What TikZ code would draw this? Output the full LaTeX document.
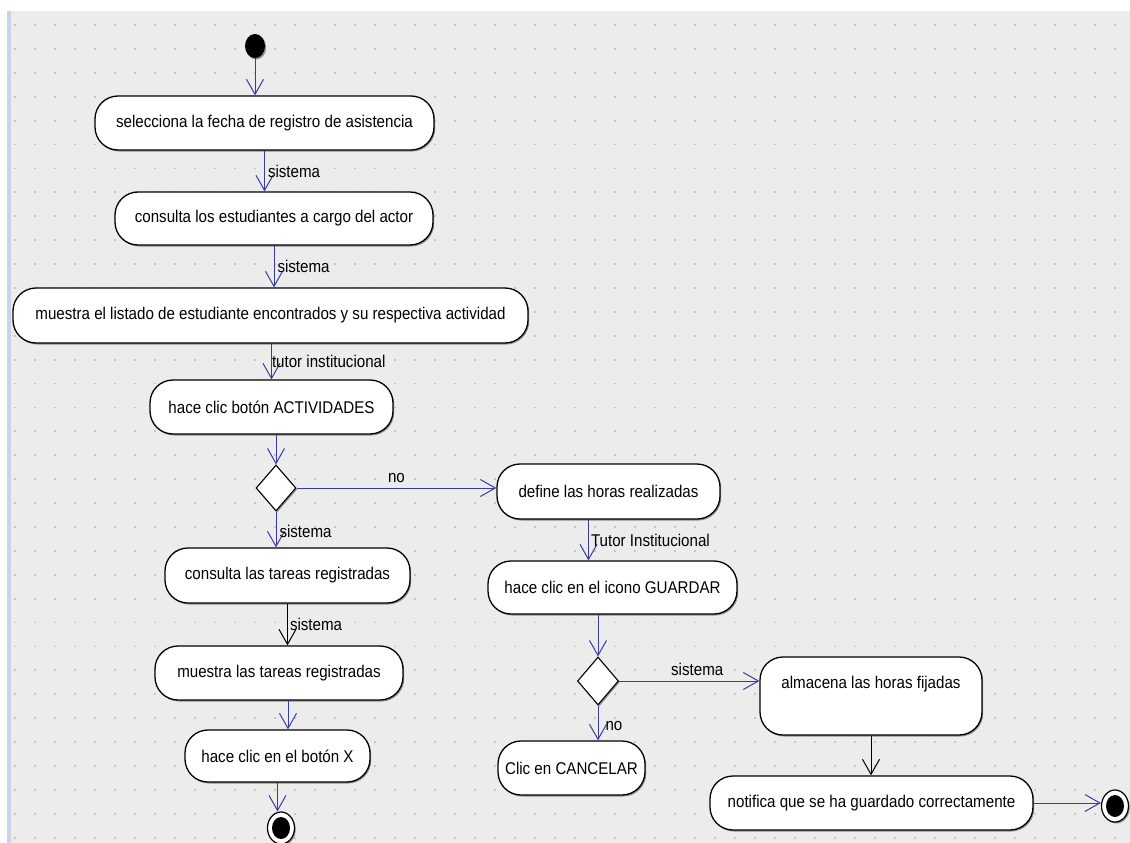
\documentclass[tikz,border=0pt]{standalone}
\usepackage{fontspec}
\setmainfont{Liberation Sans}[FakeStretch=0.89]
\usetikzlibrary{arrows.meta,shapes.geometric,shadows,calc}

\definecolor{canvas}{RGB}{236,236,236}
\definecolor{griddot}{RGB}{198,198,198}
\definecolor{edgeblue}{RGB}{58,58,165}
\definecolor{sidebar}{RGB}{200,212,234}

\begin{document}
\begin{tikzpicture}[x=1pt,y=-1pt,
  every node/.style={font=\fontsize{17}{20}\selectfont},
  softshadow/.style={drop shadow={shadow xshift=1.2pt, shadow yshift=-1.5pt, fill=black!60, opacity=0.7}},
  action/.style={draw=black, line width=1.3pt, fill=white, rounded corners=23pt,
    inner sep=0pt, softshadow},
  choice/.style={diamond, draw=black, line width=1.1pt, fill=white, inner sep=0pt,
    minimum width=40pt, minimum height=46pt, softshadow},
  initial/.style={ellipse, fill=black, inner sep=0pt, minimum width=20pt,
    minimum height=24pt, softshadow},
  final/.style={ellipse, draw=black, line width=1.2pt, fill=white, inner sep=0pt,
    minimum width=27pt, minimum height=32pt, softshadow,
    path picture={\fill[black] (path picture bounding box.center)
      ellipse [x radius=9pt, y radius=11pt];}},
  flow/.style={draw=edgeblue, line width=1pt,
    -{Straight Barb[length=15pt,width=17pt,line width=1pt]}},
  blackflow/.style={flow, draw=black},
  lbl/.style={inner sep=1pt}
]
\useasboundingbox (0,0) rectangle (1130,843);

% canvas with dotted grid
\fill[white] (0,0) rectangle (1130,843);
\fill[canvas] (11,11) rectangle (1130,843);
\fill[sidebar] (7,11) rectangle (11,843);
\foreach \j in {0,...,34}{
  \pgfmathsetmacro\gy{25+23.9*\j}
  \foreach \gx in {15,35,...,1130}{
    \fill[griddot] (\gx-0.9,\gy-0.9) rectangle ++(1.8,1.8);
  }
}

% left column
\node[initial] (s) at (255,46) {};
\node[action, minimum width=339pt, minimum height=54pt] (n1) at (264.5,123)
  {selecciona la fecha de registro de asistencia};
\node[action, minimum width=318pt, minimum height=53pt] (n2) at (274,218.5)
  {consulta los estudiantes a cargo del actor};
\node[action, minimum width=515pt, minimum height=55pt] (n3) at (270.5,315.5)
  {muestra el listado de estudiante encontrados y su respectiva actividad};
\node[action, minimum width=243pt, minimum height=54pt] (n4) at (271.5,407)
  {hace clic botón ACTIVIDADES};
\node[choice] (d1) at (276,488) {};
\node[action, minimum width=245pt, minimum height=55pt] (n6) at (287.5,575.5)
  {consulta las tareas registradas};
\node[action, minimum width=248pt, minimum height=54pt] (n7) at (279,673)
  {muestra las tareas registradas};
\node[action, minimum width=185pt, minimum height=52pt] (n8) at (277.5,756)
  {hace clic en el botón X};
\node[final] (e1) at (281,828) {};

% right column
\node[action, minimum width=223pt, minimum height=55pt] (n5) at (608.5,491.5)
  {define las horas realizadas};
\node[action, minimum width=249pt, minimum height=53pt] (n9) at (612.5,587.5)
  {hace clic en el icono GUARDAR};
\node[choice, minimum height=48pt, minimum width=41pt] (d2) at (598,681) {};
\node[action, minimum width=147pt, minimum height=54pt] (n11) at (571.5,768)
  {Clic en CANCELAR};
\node[action, minimum width=222pt, minimum height=78pt, align=center] (n10) at (871,696)
  {almacena las horas fijadas\\[8pt]~};
\node[action, minimum width=323pt, minimum height=54pt] (n12) at (871.5,803)
  {notifica que se ha guardado correctamente};
\node[final] (e2) at (1115,806) {};

% transitions
\draw[flow] (s.south) -- (s.south |- n1.north);
\draw[flow] (n1.south) -- node[lbl, anchor=west, xshift=2pt] {sistema} (n1.south |- n2.north);
\draw[flow] (n2.south) -- node[lbl, anchor=west, xshift=2pt] {sistema} (n2.south |- n3.north);
\draw[flow] (n4.north |- n3.south) -- node[lbl, anchor=west, xshift=-1pt] {tutor institucional} (n4.north);
\draw[flow] (d1.north |- n4.south) -- (d1.north);
\draw[flow] (d1.east) -- node[lbl, anchor=south, yshift=4pt] {no} (d1.east -| n5.west);
\draw[flow] (d1.south) -- node[lbl, anchor=west, xshift=2pt, pos=0.55] {sistema} (d1.south |- n6.north);
\draw[blackflow] (n6.south) -- node[lbl, anchor=west, xshift=1pt] {sistema} (n6.south |- n7.north);
\coordinate (a7) at ($(n7.south)+(9,0)$);
\draw[flow] (a7) -- (a7 |- n8.north);
\draw[flow] (n8.south) -- (n8.south |- e1.north);

\coordinate (a5) at ($(n5.south)+(-20,0)$);
\draw[flow] (a5) -- node[lbl, anchor=west, xshift=1pt] {Tutor Institucional} (a5 |- n9.north);
\draw[flow] (d2.north |- n9.south) -- (d2.north);
\draw[flow] (d2.east) -- node[lbl, anchor=south, xshift=8pt, yshift=4pt] {sistema} (d2.east -| n10.west);
\draw[flow] (d2.south) -- node[lbl, anchor=west, xshift=6pt, pos=0.6] {no} (d2.south |- n11.north);
\draw[blackflow] (n10.south) -- (n10.south |- n12.north);
\draw[flow] (n12.east) -- (n12.east -| e2.west);
\end{tikzpicture}
\end{document}
